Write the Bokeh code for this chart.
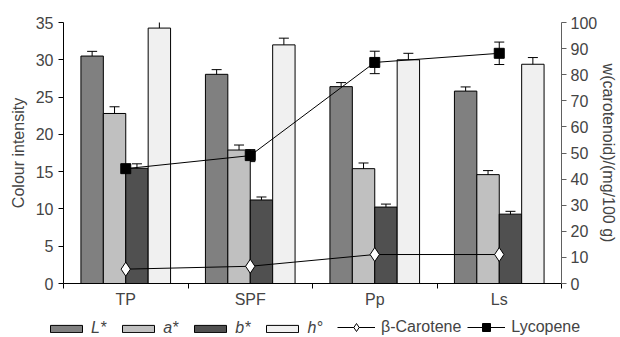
from bokeh.plotting import figure
from bokeh.layouts import column, row
from bokeh.models import (ColumnDataSource, Range1d, LinearAxis, FixedTicker, Whisker,
                          TeeHead, Legend, LegendItem)
from bokeh.embed import file_html
from bokeh.resources import INLINE

categories = ["TP", "SPF", "Pp", "Ls"]
series_names = ["L*", "a*", "b*", "h°"]
L_vals = [30.5, 28.05, 26.4, 25.8]
a_vals = [22.8, 17.9, 15.4, 14.6]
b_vals = [15.45, 11.2, 10.25, 9.3]
h_vals = [34.25, 32.0, 30.0, 29.4]
L_err = [0.63, 0.63, 0.54, 0.56]
a_err = [0.9, 0.67, 0.76, 0.54]
b_err = [0.6, 0.4, 0.4, 0.38]
h_err = [0.9, 0.9, 0.87, 0.9]
beta_carotene = [5.5, 6.6, 11.1, 11.1]
lycopene = [44.0, 49.0, 84.7, 88.2]
lycopene_err = [1.5, 2.3, 4.3, 4.3]
left_ticks = [0, 5, 10, 15, 20, 25, 30, 35]
right_ticks = [0, 10, 20, 30, 40, 50, 60, 70, 80, 90, 100]

FONT = "Liberation Sans"
colors = ["#808080", "#c0c0c0", "#505050", "#f0f0f0"]
bar_w = 0.18
offsets = [-0.27, -0.09, 0.09, 0.27]

p = figure(width=620, height=313, output_backend="svg", toolbar_location=None,
           x_range=Range1d(0, 4), y_range=Range1d(0, 35),
           min_border_left=63, min_border_right=53, min_border_top=22, min_border_bottom=30)
p.extra_y_ranges = {"w": Range1d(0, 100)}
p.outline_line_color = None
p.xgrid.visible = False
p.ygrid.visible = False

centers = [i + 0.5 for i in range(len(categories))]

# x axis
xa = p.xaxis[0]
xa.ticker = FixedTicker(ticks=centers, minor_ticks=[0, 1, 2, 3, 4])
xa.major_label_overrides = {c: cat for c, cat in zip(centers, categories)}
xa.major_tick_out = 0
xa.major_tick_in = 0
xa.minor_tick_out = 5
xa.minor_tick_in = 0
xa.minor_tick_line_color = "black"
xa.axis_line_color = "black"
xa.major_label_text_font = FONT
xa.major_label_text_font_size = "16px"
xa.major_label_standoff = 2

# left axis
ya = p.yaxis[0]
ya.ticker = FixedTicker(ticks=left_ticks)
ya.axis_label = "Colour intensity"
ya.axis_label_text_font = FONT
ya.axis_label_text_font_style = "normal"
ya.axis_label_text_font_size = "16px"
ya.axis_label_standoff = 6
ya.major_label_text_font = FONT
ya.major_label_text_font_size = "16px"
ya.major_tick_out = 5
ya.major_tick_in = 0
ya.minor_tick_out = 0
ya.minor_tick_in = 0
ya.major_label_standoff = 5

# right axis
ra = LinearAxis(y_range_name="w", ticker=FixedTicker(ticks=right_ticks))
ra.axis_label = "w(carotenoid)/(mg/100 g)"
ra.axis_label_text_font = FONT
ra.axis_label_text_font_style = "normal"
ra.axis_label_text_font_size = "16px"
ra.axis_label_standoff = 0
ra.major_label_text_font = FONT
ra.major_label_text_font_size = "16px"
ra.major_tick_out = 5
ra.major_tick_in = 0
ra.minor_tick_out = 0
ra.minor_tick_in = 0
ra.major_label_standoff = 4
ra.axis_line_color = "#606060"
ra.major_tick_line_color = "#606060"
p.add_layout(ra, "right")

# bars
vals = [L_vals, a_vals, b_vals, h_vals]
errs = [L_err, a_err, b_err, h_err]
bar_sources = []
for k in range(4):
    xs = [c + offsets[k] for c in centers]
    src = ColumnDataSource(dict(x=xs, top=vals[k],
                                upper=[v + e for v, e in zip(vals[k], errs[k])],
                                lower=[v - e for v, e in zip(vals[k], errs[k])]))
    bar_sources.append(src)
    p.vbar(x="x", top="top", width=bar_w, bottom=0, source=src,
           fill_color=colors[k], line_color="black", line_width=1)
    w = Whisker(source=src, base="x", upper="upper", lower="lower",
                line_color="black", line_width=1,
                upper_head=TeeHead(size=10, line_color="black", line_width=1),
                lower_head=TeeHead(size=10, line_color="black", line_width=1))
    p.add_layout(w)

# carotenoid lines
bsrc = ColumnDataSource(dict(x=centers, y=beta_carotene))
p.line("x", "y", source=bsrc, y_range_name="w", line_color="black", line_width=1)
p.scatter("x", "y", source=bsrc, y_range_name="w", marker="diamond", size=14,
          fill_color="white", line_color="black", line_width=1)

lsrc = ColumnDataSource(dict(x=centers, y=lycopene,
                             upper=[v + e for v, e in zip(lycopene, lycopene_err)],
                             lower=[v - e for v, e in zip(lycopene, lycopene_err)]))
p.line("x", "y", source=lsrc, y_range_name="w", line_color="black", line_width=1)
p.scatter("x", "y", source=lsrc, y_range_name="w", marker="square", size=10,
          fill_color="black", line_color="black")
lw = Whisker(source=lsrc, base="x", upper="upper", lower="lower", y_range_name="w",
             line_color="black", line_width=1,
             upper_head=TeeHead(size=10, line_color="black", line_width=1),
             lower_head=TeeHead(size=10, line_color="black", line_width=1))
p.add_layout(lw)

# legend strip: a small figure whose ranges lie away from the data, so its
# renderers (same data, same styles) only show up as legend glyphs
q = figure(width=620, height=24, output_backend="svg", toolbar_location=None,
           x_range=Range1d(-3, -2), y_range=Range1d(-3, -2),
           x_axis_type=None, y_axis_type=None,
           min_border_left=0, min_border_right=0, min_border_top=0, min_border_bottom=0)
q.outline_line_color = None
bar_dummies = [q.vbar(x="x", top="top", width=bar_w, bottom=0, source=bar_sources[k],
                      fill_color=colors[k], line_color="black", line_width=1) for k in range(4)]
bl = q.line("x", "y", source=bsrc, line_color="black", line_width=1)
bm = q.scatter("x", "y", source=bsrc, marker="diamond", size=11,
               fill_color="white", line_color="black", line_width=1)
ll = q.line("x", "y", source=lsrc, line_color="black", line_width=1)
lm = q.scatter("x", "y", source=lsrc, marker="square", size=9,
               fill_color="black", line_color="black")

leg1 = Legend(items=[LegendItem(label=n, renderers=[r]) for n, r in zip(series_names, bar_dummies)],
              orientation="horizontal", location=(46, 0),
              glyph_width=40, glyph_height=9, label_standoff=5, spacing=12,
              label_width=0, label_height=12, padding=0, margin=0,
              label_text_font=FONT, label_text_font_size="16px",
              label_text_font_style="italic",
              border_line_alpha=0, background_fill_alpha=0)
leg2 = Legend(items=[LegendItem(label="β-Carotene", renderers=[bl, bm]),
                     LegendItem(label="Lycopene", renderers=[ll, lm])],
              orientation="horizontal", location=(337, 0),
              glyph_width=38, glyph_height=20, label_standoff=6, spacing=6,
              label_width=0, label_height=12, padding=0, margin=0,
              label_text_font=FONT, label_text_font_size="16px",
              border_line_alpha=0, background_fill_alpha=0)
q.add_layout(leg1, "center")
q.add_layout(leg2, "center")

layout = column(p, row(q, spacing=0), spacing=0)
open("out.html", "w").write(file_html(layout, INLINE))
